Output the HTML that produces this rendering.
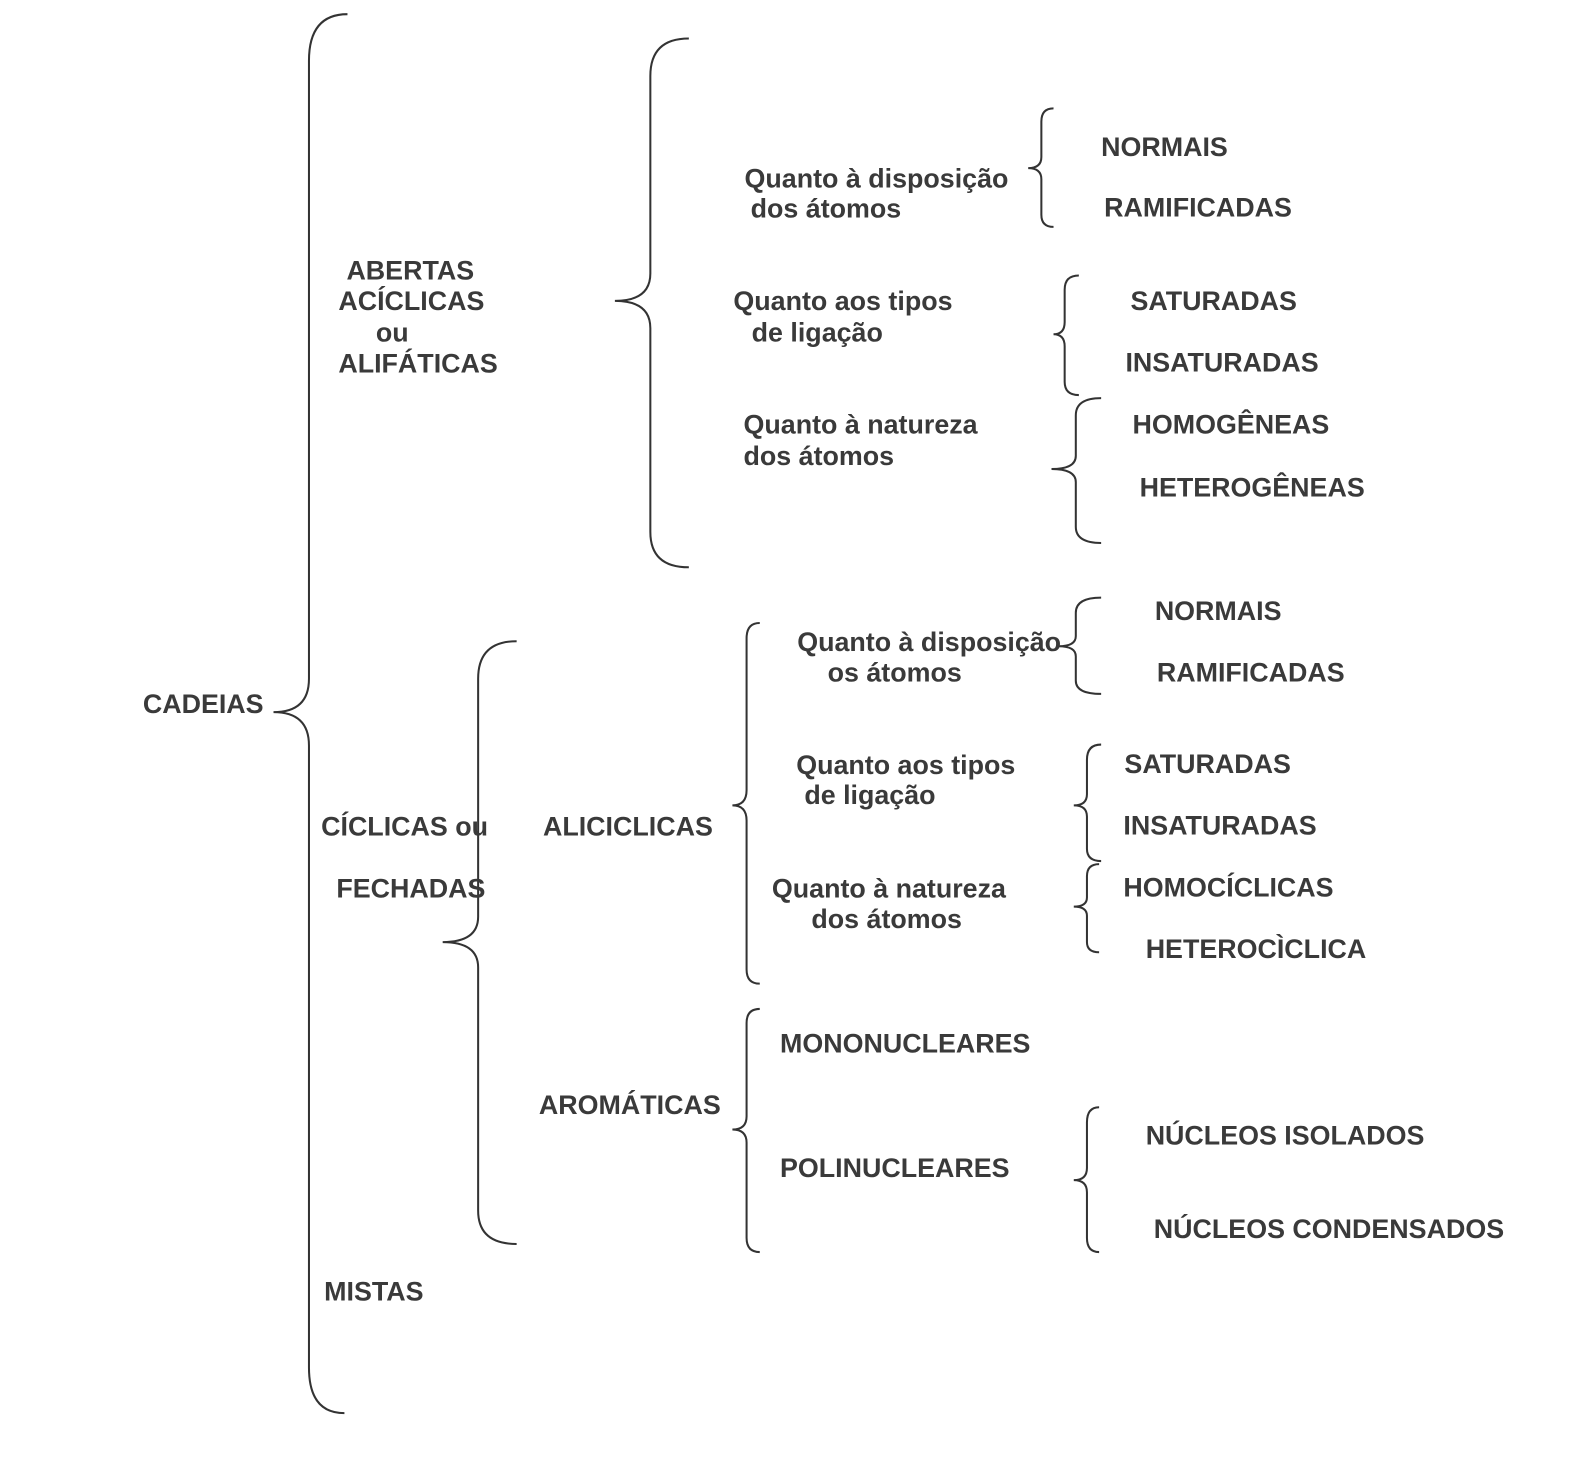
<!DOCTYPE html>
<html><head><meta charset="utf-8"><style>
html,body{margin:0;padding:0;background:#fff;}
svg{display:block;}
text{font-family:"Liberation Sans",sans-serif;font-weight:bold;font-size:26.5px;fill:#3a3a3a;dominant-baseline:central;}
path{fill:none;stroke:#333;stroke-width:2;}
</style></head><body>
<svg width="1588" height="1484" viewBox="0 0 1588 1484" xmlns="http://www.w3.org/2000/svg">
<g transform="scale(1.013)">
<path d="M343,14 Q305,14 305,60 L305,670 Q305,703 270,703 Q305,703 305,736 L305,1350 Q305,1395 340,1395"/>
<path d="M680,38 Q642,38 642,75 L642,270 Q642,297 607,297 Q642,297 642,324 L642,525 Q642,560 680,560"/>
<path d="M1040,107 Q1028,107 1028,120 L1028,155 Q1028,166 1015,166 Q1028,166 1028,177 L1028,212 Q1028,224 1040,224"/>
<path d="M1065,272 Q1051,272 1051,286 L1051,318 Q1051,330 1040,330 Q1051,330 1051,342 L1051,377 Q1051,390 1065,390"/>
<path d="M1087,393 Q1062,393 1062,410 L1062,450 Q1062,463 1038,463 Q1062,463 1062,476 L1062,520 Q1062,536 1087,536"/>
<path d="M510,633 Q472,633 472,670 L472,905 Q472,930 437,930 Q472,930 472,955 L472,1195 Q472,1228 510,1228"/>
<path d="M750,615 Q737,615 737,630 L737,780 Q737,795 723,795 Q737,795 737,810 L737,957 Q737,971 750,971"/>
<path d="M1087,590 Q1062,590 1062,605 L1062,628 Q1062,638 1045,638 Q1062,638 1062,648 L1062,672 Q1062,685 1087,685"/>
<path d="M1087,735 Q1073,735 1073,750 L1073,784 Q1073,795 1060,795 Q1073,795 1073,806 L1073,838 Q1073,850 1087,850"/>
<path d="M1085,853 Q1073,853 1073,865 L1073,886 Q1073,895 1060,895 Q1073,895 1073,904 L1073,930 Q1073,940 1085,940"/>
<path d="M750,996 Q737,996 737,1010 L737,1102 Q737,1115 723,1115 Q737,1115 737,1128 L737,1222 Q737,1236 750,1236"/>
<path d="M1085,1093 Q1073,1093 1073,1108 L1073,1153 Q1073,1165 1060,1165 Q1073,1165 1073,1177 L1073,1222 Q1073,1236 1085,1236"/>
<text x="141" y="695">CADEIAS</text>
<text x="342" y="267">ABERTAS</text>
<text x="334" y="297">ACÍCLICAS</text>
<text x="371" y="328">ou</text>
<text x="334" y="359">ALIFÁTICAS</text>
<text x="317" y="816">CÍCLICAS ou</text>
<text x="332" y="877">FECHADAS</text>
<text x="320" y="1275">MISTAS</text>
<text x="735" y="176">Quanto à disposição</text>
<text x="741" y="206">dos átomos</text>
<text x="724" y="297">Quanto aos tipos</text>
<text x="742" y="328">de ligação</text>
<text x="734" y="419">Quanto à natureza</text>
<text x="734" y="450">dos átomos</text>
<text x="1087" y="145">NORMAIS</text>
<text x="1090" y="205">RAMIFICADAS</text>
<text x="1116" y="297">SATURADAS</text>
<text x="1111" y="358">INSATURADAS</text>
<text x="1118" y="419">HOMOGÊNEAS</text>
<text x="1125" y="481">HETEROGÊNEAS</text>
<text x="536" y="816">ALICICLICAS</text>
<text x="532" y="1091">AROMÁTICAS</text>
<text x="787" y="634">Quanto à disposição</text>
<text x="817" y="664">os átomos</text>
<text x="786" y="755">Quanto aos tipos</text>
<text x="794" y="785">de ligação</text>
<text x="762" y="877">Quanto à natureza</text>
<text x="801" y="907">dos átomos</text>
<text x="1140" y="603">NORMAIS</text>
<text x="1142" y="664">RAMIFICADAS</text>
<text x="1110" y="754">SATURADAS</text>
<text x="1109" y="815">INSATURADAS</text>
<text x="1109" y="876">HOMOCÍCLICAS</text>
<text x="1131" y="937">HETEROCÌCLICA</text>
<text x="770" y="1030">MONONUCLEARES</text>
<text x="770" y="1153">POLINUCLEARES</text>
<text x="1131" y="1121">NÚCLEOS ISOLADOS</text>
<text x="1139" y="1213">NÚCLEOS CONDENSADOS</text>
</g>
</svg>
</body></html>
